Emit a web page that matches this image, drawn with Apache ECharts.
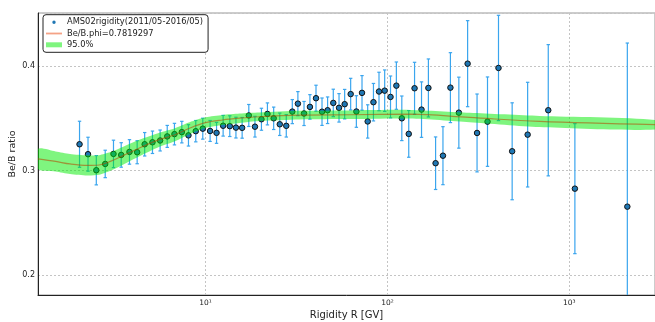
<!DOCTYPE html>
<html><head><meta charset="utf-8">
<script src="https://cdn.jsdelivr.net/npm/echarts@6/dist/echarts.min.js"></script>
<style>html,body{margin:0;padding:0;background:#fff}#c{width:655px;height:322px}</style>
</head><body><div id="c"></div>
<script>
// ---- data ----
const rigidity = [2.03,2.26,2.51,2.81,3.12,3.44,3.82,4.21,4.63,5.11,5.63,6.16,6.75,7.41,8.06,8.84,9.66,10.6,11.5,12.5,13.6,14.7,15.9,17.3,18.7,20.3,21.9,23.7,25.6,27.8,30.0,32.2,34.8,37.5,40.5,43.7,46.9,50.4,54.2,58.2,62.8,67.5,72.5,77.9,83.8,89.9,96.6,104,112,120,131,141,154,168,184,202,222,247,276,311,355,408,485,590,766,1073,2084];
const ratio = [0.3252,0.3157,0.3004,0.3064,0.3160,0.3150,0.3179,0.3176,0.3252,0.3271,0.3288,0.3327,0.3349,0.3368,0.3337,0.3377,0.3401,0.3379,0.3361,0.3429,0.3425,0.3411,0.3409,0.3527,0.3420,0.3491,0.3542,0.3500,0.3443,0.3428,0.3564,0.3640,0.3546,0.3609,0.3692,0.3563,0.3577,0.3647,0.3600,0.3635,0.3731,0.3565,0.3743,0.3470,0.3654,0.3756,0.3764,0.3704,0.3812,0.3500,0.3351,0.3787,0.3583,0.3790,0.3071,0.3143,0.3793,0.3554,0.4022,0.3360,0.3468,0.3981,0.3185,0.3344,0.3577,0.2828,0.2656];
const ratioErr = [0.0220,0.0162,0.0140,0.0131,0.0131,0.0117,0.0117,0.0110,0.0112,0.0107,0.0100,0.0105,0.0103,0.0103,0.0102,0.0102,0.0100,0.0100,0.0100,0.0099,0.0099,0.0099,0.0099,0.0105,0.0099,0.0105,0.0105,0.0107,0.0107,0.0107,0.0115,0.0115,0.0115,0.0117,0.0124,0.0131,0.0127,0.0131,0.0136,0.0141,0.0151,0.0151,0.0165,0.0159,0.0179,0.0184,0.0198,0.0200,0.0226,0.0213,0.0223,0.0248,0.0265,0.0277,0.0251,0.0277,0.0334,0.0339,0.0411,0.0372,0.0427,0.0503,0.0463,0.0500,0.0627,0.0621,0.1563];
const fitR    = [1.2,1.5,1.8,2.24,2.6,3.0,3.5,4.33,5.58,6.75,8.17,10,12.4,15.4,19.8,32.9,62,133,283,686,2960];
const fitVal  = [0.3112,0.3088,0.3064,0.3050,0.3054,0.3088,0.3141,0.3217,0.3296,0.3341,0.3405,0.3458,0.3484,0.3501,0.3515,0.3530,0.3534,0.3539,0.3508,0.3470,0.3439];
const fitHalf = [0.0096,0.0096,0.0096,0.0096,0.0093,0.0089,0.0086,0.0079,0.0067,0.0062,0.0057,0.0051,0.0048,0.0045,0.0041,0.0041,0.0041,0.0041,0.0045,0.0053,0.0045];
const xTickLabels = {10:'10\u00B9',100:'10\u00B2',1000:'10\u00B3'};
const yTickValues = [0.2,0.3,0.4];
const seriesNames = ['AMS02rigidity(2011/05-2016/05)','Be/B.phi=0.7819297','95.0%'];

// ---- chart ----
const FONT = 'DejaVu Sans';
const ERRCOL = '#3aa5ee';
const chart = echarts.init(document.getElementById('c'), null, {renderer:'canvas'});
const pts = rigidity.map((r,i)=>[r, ratio[i], ratioErr[i]]);
const fitLine = fitR.map((r,i)=>[r, fitVal[i]]);
const bandData = fitR.map((r,i)=>[r, fitVal[i]-fitHalf[i], fitVal[i]+fitHalf[i]]);

const option = {
  animation:false,
  textStyle:{fontFamily:FONT},
  grid:{left:38, top:13, width:617, height:282, show:true, borderColor:'#999', borderWidth:1,
    backgroundColor:'transparent', containLabel:false, outerBoundsMode:'none'},
  legend:{
    left:43, top:14.7, orient:'vertical', padding:[3,5,3,3], itemGap:2.3, itemWidth:16, itemHeight:9,
    borderColor:'#222', borderWidth:1, borderRadius:3, backgroundColor:'#fff', selectedMode:false,
    textStyle:{fontSize:8.3, color:'#222', fontFamily:FONT, lineHeight:9},
    data:[
      {name:seriesNames[0], icon:'path://M0,0M16,9M8,2.8A1.7,1.7,0,1,1,8,6.2A1.7,1.7,0,1,1,8,2.8Z', itemStyle:{color:'#1f77b4', borderWidth:0}},
      {name:seriesNames[1], icon:'path://M0,0M16,9M0,3.6L16,3.6L16,5.4L0,5.4Z', itemStyle:{color:'#f4a286', borderWidth:0}},
      {name:seriesNames[2], icon:'path://M0,0M16,9M0,2L16,2L16,7L0,7Z', itemStyle:{color:'rgba(0,235,0,0.5)', borderWidth:0}}
    ]
  },
  xAxis:{
    type:'log', logBase:10, min:1.2, max:2958,
    name:'Rigidity R [GV]', nameLocation:'middle', nameGap:15, nameMoveOverlap:false,
    nameTextStyle:{fontSize:10, color:'#222', fontFamily:FONT},
    axisLine:{show:true, lineStyle:{color:'#222', width:1}},
    axisTick:{show:false}, minorTick:{show:false},
    axisLabel:{fontSize:7.5, color:'#222', margin:4, showMinLabel:false, showMaxLabel:false,
      formatter:v=>xTickLabels[Math.round(v)] || ''},
    splitLine:{show:true, lineStyle:{color:'#c4c4c4', width:1, type:[2,2]}}
  },
  yAxis:{
    type:'value', min:0.1812, max:0.4506, splitNumber:3,
    name:'Be/B ratio', nameLocation:'middle', nameGap:20, nameRotate:90, nameMoveOverlap:false,
    nameTextStyle:{fontSize:9.5, color:'#222', fontFamily:FONT},
    axisLine:{show:true, lineStyle:{color:'#222', width:1}},
    axisTick:{show:false},
    axisLabel:{fontSize:8, color:'#222', margin:3, showMinLabel:false, showMaxLabel:false,
      formatter:v=>yTickValues.some(t=>Math.abs(t-v)<1e-6) ? v.toFixed(1) : ''},
    splitLine:{show:true, lineStyle:{color:'#c4c4c4', width:1, type:[2,2]}}
  },
  series:[
    {
      type:'custom', name:'errors', z:2, clip:true, silent:true,
      data:pts, encode:{x:0, y:1},
      renderItem:(params, api)=>{
        const x = api.value(0), v = api.value(1), e = api.value(2);
        const top = api.coord([x, v+e]);
        const bot = api.coord([x, v-e]);
        const cs = params.coordSys;
        const yMin = cs.y, yMax = cs.y + cs.height;
        const t = Math.max(top[1], yMin), b = Math.min(bot[1], yMax);
        const st = {stroke:ERRCOL, lineWidth:1.2};
        const ch = [{type:'line', shape:{x1:top[0], y1:t, x2:top[0], y2:b}, style:st}];
        if (top[1] >= yMin) ch.push({type:'line', shape:{x1:top[0]-1.7, y1:top[1], x2:top[0]+1.7, y2:top[1]}, style:st});
        if (bot[1] <= yMax) ch.push({type:'line', shape:{x1:bot[0]-1.7, y1:bot[1], x2:bot[0]+1.7, y2:bot[1]}, style:st});
        return {type:'group', children:ch};
      }
    },
    {
      type:'scatter', name:seriesNames[0], z:3, silent:true,
      data:pts.map(p=>[p[0], p[1]]),
      symbol:'circle', symbolSize:5.5,
      itemStyle:{color:'#1f77b4', borderColor:'#111', borderWidth:1, opacity:1}
    },
    {
      type:'custom', name:seriesNames[2], z:4, clip:true, silent:true,
      data:bandData, encode:{x:0, y:[1,2]},
      itemStyle:{color:'rgba(0,235,0,0.5)'},
      renderItem:(params, api)=>{
        if (params.dataIndex !== 0) return null;
        const upper = bandData.map(d=>api.coord([d[0], d[2]]));
        const lower = bandData.map(d=>api.coord([d[0], d[1]])).reverse();
        return {type:'polygon', shape:{points:upper.concat(lower), smooth:0.25},
          style:{fill:'rgba(0,235,0,0.5)', stroke:null}};
      }
    },
    {
      type:'line', name:seriesNames[1], z:5, silent:true,
      data:fitLine, smooth:0.35, symbol:'none', showSymbol:false,
      lineStyle:{color:'rgba(180,70,0,0.55)', width:1.2}
    }
  ]
};
chart.setOption(option);
</script>
</body></html>
